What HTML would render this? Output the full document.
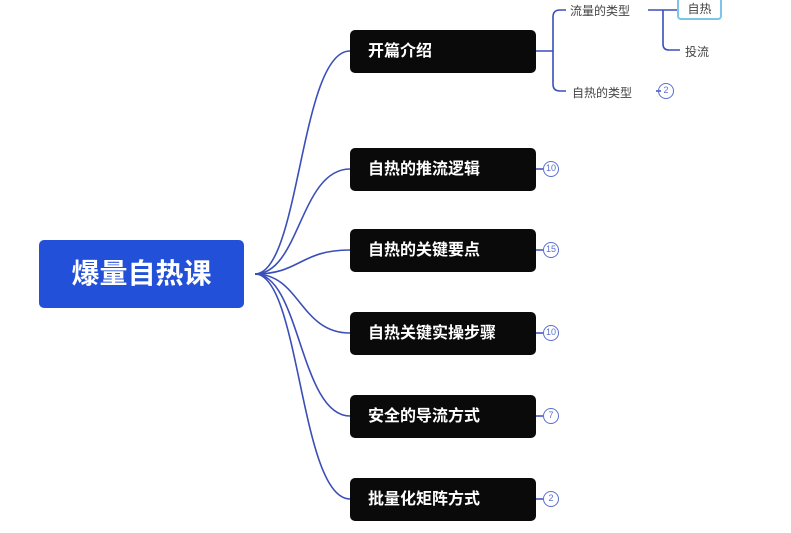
<!DOCTYPE html>
<html><head><meta charset="utf-8"><style>
body{margin:0;width:791px;height:533px;background:#fff;overflow:hidden;position:relative;font-family:"Liberation Sans","Noto Sans CJK SC",sans-serif}
.n{position:absolute;left:350px;width:186px;height:43px;background:#0a0a0a;border-radius:5px;color:#fff;font-size:16px;font-weight:bold;line-height:43px;padding-left:18px;box-sizing:border-box}
.b{position:absolute;left:543px;width:16px;height:16px;border:1.5px solid #5a6fd0;border-radius:50%;box-sizing:border-box;font-size:9px;color:#5a6fd0;text-align:center;line-height:13px}
.t{position:absolute;font-size:12px;color:#444}
</style></head><body>
<svg width="791" height="533" style="position:absolute;left:0;top:0" fill="none" stroke="#3a4fb8" stroke-width="1.6">
<path d="M255 274 C300 274 300 51 350 51"/>
<path d="M255 274 C300 274 300 169 350 169"/>
<path d="M255 274 C300 274 300 250 350 250"/>
<path d="M255 274 C300 274 300 333 350 333"/>
<path d="M255 274 C300 274 300 416 350 416"/>
<path d="M255 274 C300 274 300 499 350 499"/>
<path d="M536 51 H553 M566 10 H560 Q553 10 553 17 V84 Q553 91 560 91 H566"/>
<path d="M648 10 H678 M663 10 V44 Q663 50 669 50 H680"/>
<path d="M536 169 H543 M536 250 H543 M536 333 H543 M536 416 H543 M536 499 H543 M656 91 H661"/>
</svg>
<div style="position:absolute;left:39px;top:240px;width:205px;height:68px;background:#2250d9;border-radius:5px;color:#fff;font-size:28px;font-weight:bold;line-height:68px;text-align:center">爆量自热课</div>
<div class="n" style="top:30px">开篇介绍</div>
<div class="n" style="top:148px">自热的推流逻辑</div><div class="b" style="top:161px">10</div>
<div class="n" style="top:229px">自热的关键要点</div><div class="b" style="top:242px">15</div>
<div class="n" style="top:312px">自热关键实操步骤</div><div class="b" style="top:325px">10</div>
<div class="n" style="top:395px">安全的导流方式</div><div class="b" style="top:408px">7</div>
<div class="n" style="top:478px">批量化矩阵方式</div><div class="b" style="top:491px">2</div>
<div class="t" style="left:570px;top:2px">流量的类型</div>
<div class="t" style="left:572px;top:84px">自热的类型</div>
<div class="b" style="left:658px;top:83px">2</div>
<div style="position:absolute;left:677px;top:-6px;width:45px;height:26px;border:2px solid #7cc4e8;border-radius:4px;font-size:12px;color:#444;line-height:26px;text-align:center;box-sizing:border-box">自热</div>
<div class="t" style="left:685px;top:43px">投流</div>
</body></html>
